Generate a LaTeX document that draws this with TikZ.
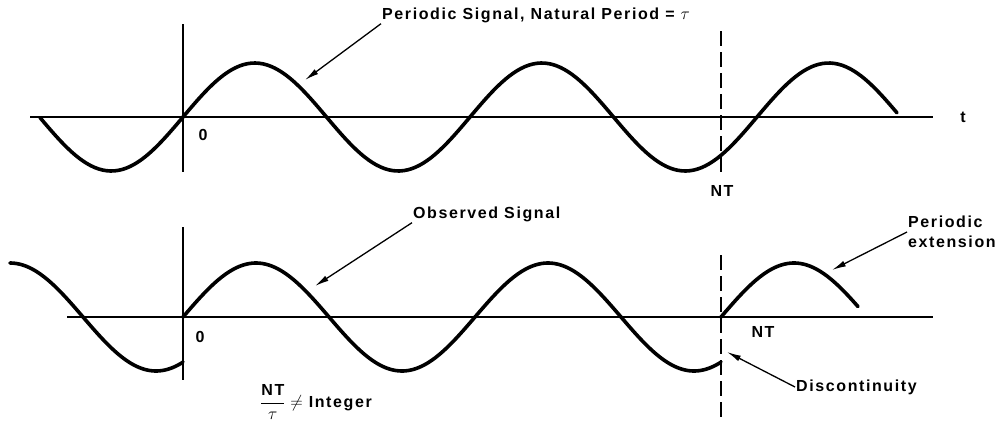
\documentclass[tikz,border=0pt]{standalone}
\usepackage{fontspec}
\setmainfont{Liberation Sans}[LetterSpace=10]
\usetikzlibrary{arrows.meta,positioning}

\tikzset{
  wave/.style={line width=3.6pt, line cap=round, line join=round},
  axis/.style={line width=1.8pt},
  marker/.style={line width=1.2pt},
  cutline/.style={line width=1.4pt, dash pattern=on 15pt off 6pt},
  pointer/.style={line width=1.3pt, -{Latex[length=14pt,width=6pt]}},
  label/.style={font=\fontsize{16}{20}\selectfont\bfseries, inner sep=1pt}
}

\begin{document}
\begin{tikzpicture}[x=1pt, y=-1pt]
  \useasboundingbox (0,0) rectangle (999,426);

  % Top: periodic signal
  \draw[axis] (30,117) -- (933,117);
  \draw[marker] (183,24) -- (183,172);
  \draw[cutline] (721,31) -- (721,175);
  \draw[wave] plot[domain=40:897, samples=220] (\x, {117-54*sin((\x-183)/287*360)});

  \node[label] (zerotop) at (203,135) {0};
  \node[label] (tlabel) at (963,117) {t};
  \node[label] (nttop) at (722,191) {NT};
  \node[label, anchor=west] (periodic) at (381,15) {Periodic Signal, Natural Period = $\tau$};
  \coordinate (periodictip) at (305,80);
  \draw[pointer] (periodic.south west) -- (periodictip);

  % Bottom: observed signal and its periodic extension
  \draw[axis] (67,317) -- (933,317);
  \draw[marker] (183,227) -- (183,380);
  \draw[cutline] (721,255) -- (721,418);
  \draw[wave] plot[domain=10:183, samples=80] (\x, {317-54*sin((\x+538-183)/292*360)});
  \draw[wave] plot[domain=183:721, samples=220] (\x, {317-54*sin((\x-183)/292*360)});
  \draw[wave] plot[domain=721:858, samples=80] (\x, {317-54*sin((\x-721)/292*360)});

  \node[label] (zerobot) at (200,337) {0};
  \node[label] (ntbot) at (763,332) {NT};
  \node[label, anchor=west] (ratio) at (259,402) {$\displaystyle\frac{\mbox{NT}}{\tau}\neq$ Integer};

  \node[label, anchor=west] (observed) at (412,214) {Observed Signal};
  \coordinate (observedtip) at (315,286);
  \draw[pointer] (observed.south west) -- (observedtip);

  \node[label, anchor=west, align=left] (extension) at (907,232) {Periodic\\extension};
  \coordinate (extensiontip) at (832,270);
  \draw[pointer] (extension.west) -- (extensiontip);

  \node[label, anchor=west] (discont) at (795,387) {Discontinuity};
  \coordinate (discontip) at (727,352);
  \draw[pointer] (discont.west) -- (discontip);
\end{tikzpicture}
\end{document}
